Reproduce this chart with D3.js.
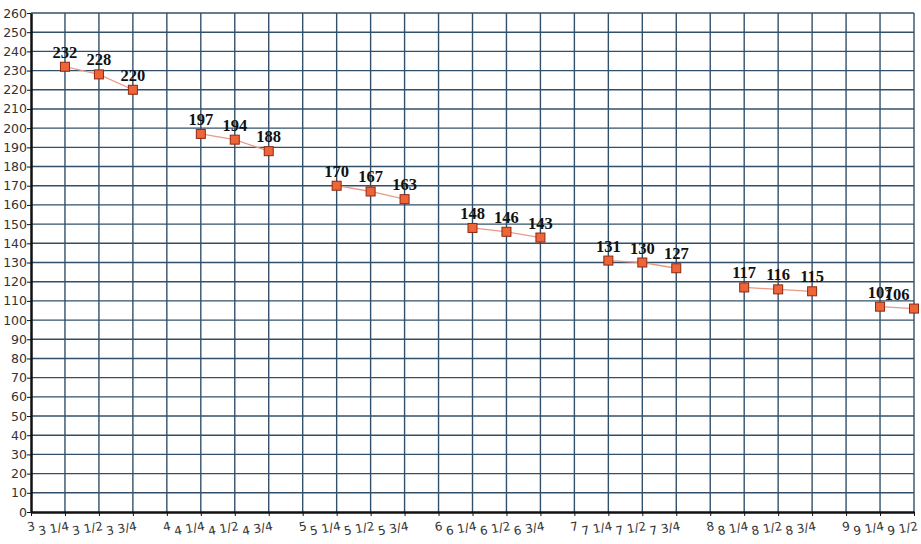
<!DOCTYPE html>
<html><head><meta charset="utf-8">
<script src="https://cdn.jsdelivr.net/npm/d3@7"></script>
<style>body{margin:0;background:#fff}svg{display:block}</style>
</head><body>
<script>
const xLabels = ["3","3 1/4","3 1/2","3 3/4","4","4 1/4","4 1/2","4 3/4","5","5 1/4","5 1/2","5 3/4","6","6 1/4","6 1/2","6 3/4","7","7 1/4","7 1/2","7 3/4","8","8 1/4","8 1/2","8 3/4","9","9 1/4","9 1/2"];
const values = [null,232,228,220,null,197,194,188,null,170,167,163,null,148,146,143,null,131,130,127,null,117,116,115,null,107,106];
const yTicks = d3.range(0, 261, 10);

const W = 921, H = 544;
const svg = d3.select("body").append("svg").attr("width", W).attr("height", H);
const x = d3.scalePoint().domain(xLabels).range([31, 914]);
const y = d3.scaleLinear().domain([0, 260]).range([512, 13]);

const gridColor = "#33506a";
svg.append("g").selectAll("line").data(yTicks.filter(d => d > 0)).join("line")
  .attr("x1", 31).attr("x2", 914)
  .attr("y1", d => y(d)).attr("y2", d => y(d))
  .attr("stroke", gridColor).attr("stroke-width", 1.4);
svg.append("g").selectAll("line").data(xLabels.slice(1)).join("line")
  .attr("x1", d => x(d)).attr("x2", d => x(d))
  .attr("y1", 13).attr("y2", 512)
  .attr("stroke", gridColor).attr("stroke-width", 1.4);

const yAxis = svg.append("g").attr("transform", "translate(31,0)")
  .call(d3.axisLeft(y).tickValues(yTicks).tickSize(4).tickSizeOuter(0));
yAxis.select(".domain").attr("stroke", "#111").attr("stroke-width", 2.5);
yAxis.selectAll(".tick line").attr("stroke", "#111");
yAxis.selectAll("text").attr("font-family", "'DejaVu Sans', sans-serif").attr("font-size", 12.5).attr("fill", "#333").attr("x", -4);

const xAxis = svg.append("g").attr("transform", "translate(0,512)")
  .call(d3.axisBottom(x).tickSize(4).tickSizeOuter(0));
xAxis.select(".domain").attr("stroke", "#111").attr("stroke-width", 2.5);
xAxis.selectAll(".tick line").attr("stroke", "#111");
xAxis.selectAll("text")
  .attr("font-family", "'DejaVu Sans', sans-serif").attr("font-size", 12).attr("fill", "#333")
  .attr("text-anchor", "end").attr("dy", 0).attr("y", 0)
  .attr("transform", "translate(4,18) rotate(-10)");

const pts = xLabels.map((l, i) => ({l, v: values[i]}));
const line = d3.line().defined(d => d.v != null).x(d => x(d.l)).y(d => y(d.v));
svg.append("path").datum(pts).attr("d", line)
  .attr("fill", "none").attr("stroke", "#e89a85").attr("stroke-width", 1.3);

const valid = pts.filter(d => d.v != null);
svg.append("g").selectAll("rect").data(valid).join("rect")
  .attr("x", d => x(d.l) - 4.5).attr("y", d => y(d.v) - 4.5)
  .attr("width", 9).attr("height", 9)
  .attr("fill", "#f0643a").attr("stroke", "#8a2a10").attr("stroke-width", 1);

svg.append("g").selectAll("text").data(valid).join("text")
  .attr("x", d => Math.min(x(d.l), 897)).attr("y", d => y(d.v) - 9)
  .attr("text-anchor", "middle")
  .attr("font-family", "'Liberation Serif', 'Times New Roman', serif")
  .attr("font-weight", "bold").attr("font-size", 16.5).attr("fill", "#111")
  .text(d => d.v);
</script>
</body></html>
